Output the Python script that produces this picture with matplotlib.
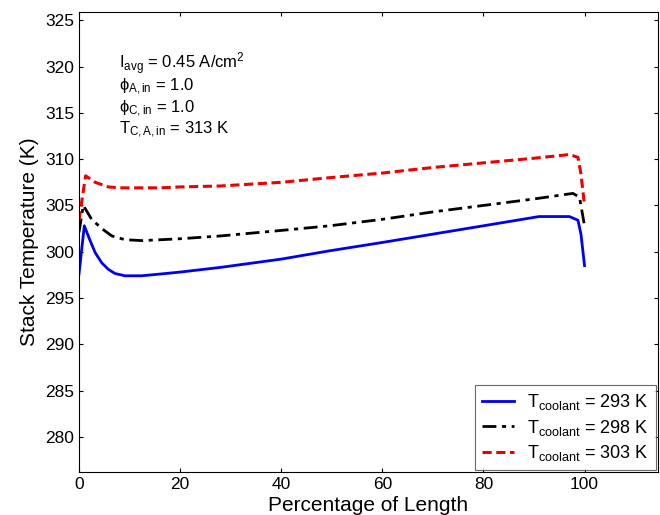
import numpy as np
import matplotlib
matplotlib.use("Agg")
import matplotlib.pyplot as plt

plt.rcParams["font.family"] = ["Liberation Sans", "DejaVu Sans"]
plt.rcParams["mathtext.fontset"] = "custom"
plt.rcParams["mathtext.rm"] = "Liberation Sans"
plt.rcParams["mathtext.it"] = "Liberation Sans"

# ── Data ──────────────────────────────────────────────────────────────────────
x_293 = [0, 1.05, 2.2, 3.2, 4.5, 5.8, 7.1, 9.1, 12.4, 16.3, 20, 27.9, 40, 49.6,
         60, 70, 80, 91, 97, 98.7, 99.3, 100]
t_293 = [297.6, 302.8, 301.2, 299.9, 298.8, 298.1, 297.65, 297.4, 297.4, 297.6,
         297.8, 298.3, 299.2, 300.1, 301.0, 301.9, 302.8, 303.8, 303.8, 303.4,
         301.9, 298.5]

x_298 = [0, 0.85, 2.5, 4.5, 6.5, 9.1, 12.4, 16.3, 20, 27.9, 40, 49.6, 60, 70,
         80, 90, 97.7, 99, 100]
t_298 = [302.1, 305.0, 303.5, 302.5, 301.7, 301.3, 301.2, 301.3, 301.4, 301.7,
         302.3, 302.8, 303.5, 304.3, 305.0, 305.7, 306.3, 305.9, 302.8]

x_303 = [0, 1.3, 3.2, 5.8, 8.4, 12, 16.3, 20, 27.9, 40, 49.6, 60, 70, 80, 90,
         97.0, 98.7, 99.3, 100]
t_303 = [303.4, 308.2, 307.5, 307.0, 306.9, 306.9, 306.9, 307.0, 307.1, 307.5,
         308.0, 308.5, 309.1, 309.6, 310.1, 310.5, 310.2, 308.4, 305.0]

labels = [r"T$_{\rm coolant}$ = 293 K ",
          r"T$_{\rm coolant}$ = 298 K ",
          r"T$_{\rm coolant}$ = 303 K "]

# operating conditions, one line each (baseline in data units)
info_lines = [r"I$_{\rm avg}$ = 0.45 A/cm$^2$",
              r"ϕ$_{\rm A,in}$ = 1.0",
              r"ϕ$_{\rm C,in}$ = 1.0",
              r"T$_{\rm C,A,in}$ = 313 K"]
info_y = [319.8, 317.4, 315.0, 312.75]

# ── Plot ──────────────────────────────────────────────────────────────────────
fig = plt.figure(figsize=(6.6, 5.15), dpi=100)
ax = fig.add_axes([0.1197, 0.0835, 0.877, 0.8932])

ax.plot(x_293, t_293, color="#0000ee", linewidth=2.0, label=labels[0])
ax.plot(x_298, t_298, color="black", linewidth=2.0, linestyle=(0, (5, 2, 1.5, 2)),
        label=labels[1])
ax.plot(x_303, t_303, color="#ee0000", linewidth=2.2, linestyle=(0, (3, 1.5)),
        label=labels[2])

ax.set_xlim(0, 114.5)
ax.set_ylim(276.2, 325.9)
ax.set_xticks([0, 20, 40, 60, 80, 100])
ax.set_yticks(np.arange(280, 326, 5))
ax.tick_params(direction="in", length=3, top=True, right=True, labelsize=12.5)

ax.set_xlabel("Percentage of Length", fontsize=15, labelpad=3)
ax.set_ylabel("Stack Temperature (K)", fontsize=15, labelpad=4)

for s, y in zip(info_lines, info_y):
    ax.text(8.0, y, s, fontsize=12, va="baseline", ha="left")

leg = ax.legend(loc="lower right", fontsize=13, frameon=True, fancybox=False,
                edgecolor="#444444", borderaxespad=0.1, handlelength=1.8,
                labelspacing=0.3, borderpad=0.4, handletextpad=0.7)
leg.get_frame().set_linewidth(0.8)

plt.savefig("out.png", dpi=100)
